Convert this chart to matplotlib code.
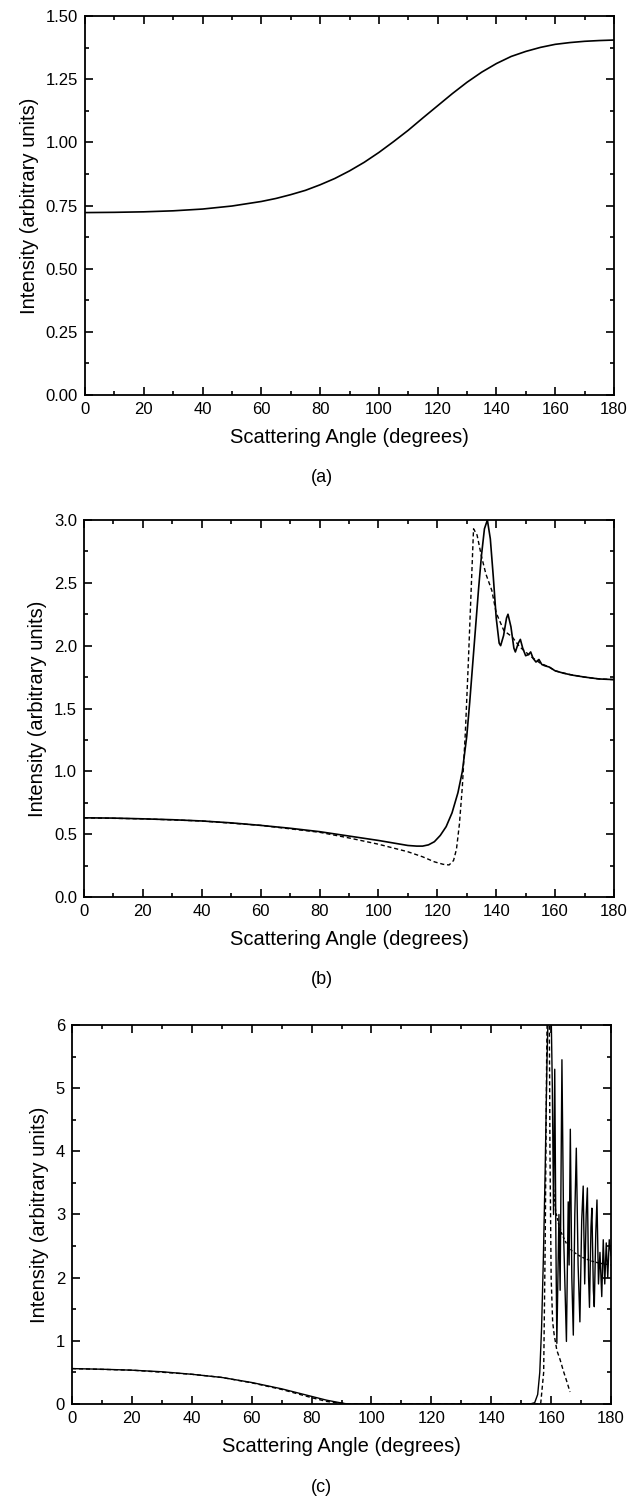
import matplotlib
matplotlib.use("Agg")
import matplotlib.pyplot as plt
from matplotlib.ticker import MultipleLocator

plt.rcParams["font.family"] = ["Liberation Sans", "DejaVu Sans"]

# ---- panel (a) ----
a_angle = [0, 10, 20, 30, 40, 50, 60, 65, 70, 75, 80, 85, 90, 95, 100, 105, 110,
           115, 120, 125, 130, 135, 140, 145, 150, 155, 160, 165, 170, 175, 180]
a_solid = [0.722, 0.723, 0.725, 0.729, 0.736, 0.748, 0.766, 0.778, 0.793, 0.810,
           0.832, 0.857, 0.887, 0.921, 0.960, 1.003, 1.048, 1.097, 1.145, 1.193,
           1.238, 1.278, 1.312, 1.340, 1.360, 1.376, 1.388, 1.395, 1.400, 1.403, 1.405]

# ---- panel (b) ----
b_angle_solid = [0, 10, 20, 30, 40, 50, 60, 70, 80, 90, 100, 105, 110, 113, 115, 117,
                 119, 121, 123, 125, 127, 128.5, 130, 131, 132, 133, 134, 135, 136, 137,
                 138, 139, 140, 141, 141.5, 142.5, 143.5, 144, 145, 146, 146.5, 147.5,
                 148.2, 149, 150, 151, 151.7, 152.5, 153.5, 154.5, 155.5, 156.5, 158,
                 160, 163, 166, 170, 175, 180]
b_solid = [0.63, 0.628, 0.622, 0.615, 0.605, 0.59, 0.57, 0.547, 0.52, 0.485, 0.45,
           0.43, 0.41, 0.405, 0.405, 0.415, 0.44, 0.49, 0.56, 0.67, 0.83, 1.0, 1.28,
           1.55, 1.85, 2.15, 2.45, 2.72, 2.93, 3.0, 2.85, 2.55, 2.22, 2.02, 2.0, 2.08,
           2.22, 2.25, 2.15, 1.98, 1.95, 2.02, 2.05, 1.98, 1.92, 1.93, 1.95, 1.9, 1.87,
           1.89, 1.85, 1.84, 1.83, 1.80, 1.78, 1.765, 1.75, 1.735, 1.73]

b_angle_dash = [0, 20, 40, 60, 80, 90, 100, 105, 110, 115, 119, 122, 124, 125.5, 126.5,
                127.5, 128.5, 129.5, 130.5, 131.5, 132.3, 133.5, 135, 136.5, 138.5, 140,
                142.6, 145.4, 148, 150, 152, 155, 158, 160, 165, 170, 175, 180]
b_dash = [0.63, 0.622, 0.605, 0.57, 0.515, 0.47, 0.42, 0.39, 0.36, 0.32, 0.28, 0.26,
          0.255, 0.29, 0.38, 0.58, 0.88, 1.3, 1.85, 2.45, 2.93, 2.88, 2.71, 2.57, 2.44,
          2.26, 2.12, 2.07, 1.99, 1.95, 1.91, 1.86, 1.83, 1.80, 1.77, 1.75, 1.735, 1.73]

# ---- panel (c) ----
c_angle_solid = [0, 10, 20, 30, 40, 50, 60, 70, 80, 85, 90, 92, 153, 154.5, 155.5,
                 156.2, 156.8, 157.4, 158.0, 158.6, 159.2, 159.8, 160.4, 160.8, 161.2,
                 161.6, 161.9, 162.6, 163.0, 163.6, 164.2, 165.1, 165.7, 166.0, 166.4,
                 166.9, 167.4, 167.9, 168.4, 169.0, 169.6, 170.2, 170.7, 171.2, 171.7,
                 172.1, 172.5, 172.8, 173.3, 173.6, 174.1, 174.4, 174.9, 175.3, 175.8,
                 176.3, 176.9, 177.4, 177.9, 178.4, 178.9, 179.4, 180.0]
c_solid = [0.56, 0.55, 0.535, 0.51, 0.47, 0.42, 0.34, 0.24, 0.12, 0.06, 0.015, 0.0,
           0.0, 0.02, 0.15, 0.5, 1.2, 2.3, 3.7, 5.4, 6.6, 6.8, 5.0, 3.0, 5.3, 2.5, 0.96,
           3.0, 1.8, 5.45, 2.6, 0.99, 3.2, 2.2, 4.35, 2.0, 1.09, 3.0, 4.05, 2.2, 1.30,
           2.9, 3.45, 1.9, 3.0, 3.42, 2.0, 1.53, 2.8, 3.1, 1.8, 1.54, 2.7, 3.23, 1.9,
           2.4, 1.70, 2.6, 1.9, 2.55, 2.0, 2.6, 2.35]

c_angle_dash = [0, 20, 40, 50, 60, 70, 80, 85, 90, 93, 150, 156.5, 157.5, 158.0, 158.5,
                158.9, 159.3, 159.6, 160.0, 160.5, 161.0, 161.9, 163.0, 164.1, 165.2, 166.3]
c_dash = [0.56, 0.535, 0.47, 0.42, 0.335, 0.23, 0.10, 0.04, 0.01, 0.0, 0.0, 0.0, 0.5,
          2.5, 5.5, 7.0, 7.0, 4.0, 2.0, 1.3, 1.1, 0.85, 0.7, 0.52, 0.36, 0.19]

c_angle_mean = [160.8, 161.5, 162.5, 163.5, 165, 167, 170, 173, 176, 180]
c_mean = [3.4, 3.05, 2.85, 2.7, 2.55, 2.42, 2.33, 2.27, 2.23, 2.2]

XLABEL = "Scattering Angle (degrees)"
YLABEL = "Intensity (arbitrary units)"

fig = plt.figure(figsize=(6.43, 14.99), dpi=100)


def style_axes(ax, ymax, ymajor, yfmt):
    ax.set_xlim(0, 180)
    ax.set_ylim(0, ymax)
    ax.xaxis.set_major_locator(MultipleLocator(20))
    ax.xaxis.set_minor_locator(MultipleLocator(10))
    ax.yaxis.set_major_locator(MultipleLocator(ymajor))
    ax.yaxis.set_minor_locator(MultipleLocator(ymajor / 2))
    ax.yaxis.set_major_formatter(yfmt)
    ax.tick_params(which="both", direction="in", top=True, right=True,
                   labelsize=12, width=1.2)
    ax.tick_params(which="major", length=6, pad=5)
    ax.tick_params(which="minor", length=3)
    for sp in ax.spines.values():
        sp.set_linewidth(1.3)
    ax.set_xlabel(XLABEL, fontsize=14.5, labelpad=8)
    ax.set_ylabel(YLABEL, fontsize=14.5, labelpad=5)


ax_a = fig.add_axes([0.1322, 0.7365, 0.8227, 0.2528])
ax_a.plot(a_angle, a_solid, color="black", lw=1.2)
style_axes(ax_a, 1.5, 0.25, "{x:.2f}")
fig.text(0.5, 1 - 477 / 1499, "(a)", ha="center", va="center", fontsize=13)

ax_b = fig.add_axes([0.1306, 0.4016, 0.8243, 0.2515])
ax_b.plot(b_angle_dash, b_dash, color="black", lw=1.0, linestyle=(0, (3, 2)))
ax_b.plot(b_angle_solid, b_solid, color="black", lw=1.2)
style_axes(ax_b, 3.0, 0.5, "{x:.1f}")
fig.text(0.5, 1 - 980 / 1499, "(b)", ha="center", va="center", fontsize=13)

ax_c = fig.add_axes([0.1120, 0.0634, 0.8383, 0.2528])
ax_c.plot(c_angle_dash, c_dash, color="black", lw=1.0, linestyle=(0, (3, 2)))
ax_c.plot(c_angle_mean, c_mean, color="black", lw=1.0, linestyle=(0, (2, 1.5)))
ax_c.plot(c_angle_solid, c_solid, color="black", lw=1.0)
style_axes(ax_c, 6, 1, "{x:.0f}")
fig.text(0.5, 1 - 1487 / 1499, "(c)", ha="center", va="center", fontsize=13)

fig.savefig("out.png", dpi=100)
